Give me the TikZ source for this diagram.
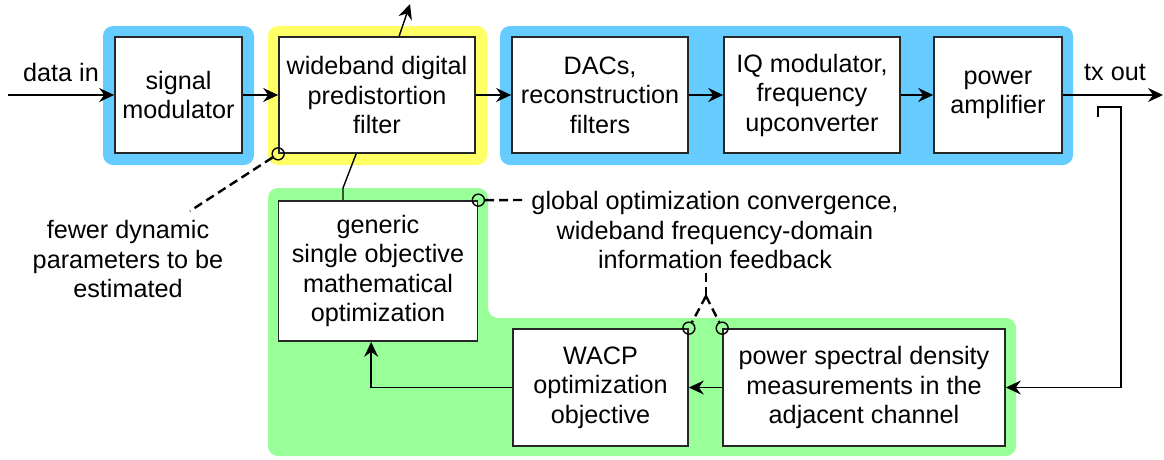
\documentclass[tikz,border=0pt]{standalone}
\usepackage{fontspec}
\setmainfont{Liberation Sans}
\usetikzlibrary{arrows.meta,calc}
\definecolor{panelblue}{HTML}{66CCFF}
\definecolor{panelyellow}{HTML}{FFFF66}
\definecolor{panelgreen}{HTML}{99FF99}
\begin{document}
\begin{tikzpicture}[x=1pt,y=-1pt,
  font=\fontsize{25.2}{29.5}\selectfont,
  blk/.style={draw=black!85,line width=1.7pt,fill=white,align=center,inner sep=0pt},
  panel/.style={rounded corners=10pt},
  wire/.style={line width=1.4pt},
  arrow/.style={wire,-{Stealth[length=15pt,width=14pt,inset=5pt]}},
  dashline/.style={line width=2.4pt,dash pattern=on 9pt off 5pt},
  tap/.style={circle,draw,line width=1.4pt,minimum size=12pt,inner sep=0pt},
  lbl/.style={align=center,inner sep=0pt}]
\useasboundingbox (0,0) rectangle (1164,459);

% coloured group panels
\fill[panelblue,panel] (103,26) rectangle (254,165);
\fill[panelyellow,panel] (268,26) rectangle (487,165);
\fill[panelblue,panel] (500,26) rectangle (1073,165);
\fill[panelgreen,panel] (268,188) -- (488,188) -- (488,318) -- (1016,318)
  -- (1016,456) -- (268,456) -- cycle;

% transmit chain
\node[blk,minimum width=127pt,minimum height=116pt] (sig) at (178.5,95) {signal\\modulator};
\node[blk,minimum width=196pt,minimum height=116pt] (pred) at (377,95) {wideband digital\\predistortion\\filter};
\node[blk,minimum width=176pt,minimum height=116pt] (dacs) at (600,95) {DACs,\\reconstruction\\filters};
\node[blk,minimum width=176pt,minimum height=116pt] (iq) at (812,95) {IQ modulator,\\frequency\\upconverter};
\node[blk,minimum width=128pt,minimum height=116pt] (pa) at (998,95) {power\\amplifier};

% optimisation loop
\node[blk,minimum width=199pt,minimum height=140pt] (gen) at (378,271) {generic\\single objective\\mathematical\\optimization};
\node[blk,minimum width=175pt,minimum height=117pt] (wacp) at (600.5,387.5) {WACP\\optimization\\objective};
\node[blk,minimum width=282pt,minimum height=117pt] (psd) at (864,387.5) {power spectral density\\measurements in the\\adjacent channel};

% free text
\node[lbl] (datain) at (61,72) {data in};
\node[lbl] (txout) at (1115,72) {tx out};
\node[lbl] (fewer) at (128,259) {fewer dynamic\\parameters to be\\estimated};
\node[lbl] (glob) at (715,230) {global optimization convergence,\\wideband frequency-domain\\information feedback};

% connector end points
\coordinate (inpt) at (8,95);
\coordinate (outpt) at (1163,95);
\coordinate (predout) at (410,4);
\coordinate (bend) at (343,188);
\coordinate (fbstart) at (1098,117);
\coordinate (fbcorner) at (1121,107);
\coordinate (fewtip) at (190,211);
\coordinate (globtip) at (527,200);
\coordinate (infotip) at (706,270);
\coordinate (ysplit) at (706,296);

% signal path
\draw[arrow] (inpt) -- (sig.west);
\draw[arrow] (sig) -- (pred);
\draw[arrow] (pred) -- (dacs);
\draw[arrow] (dacs) -- (iq);
\draw[arrow] (iq) -- (pa);
\draw[arrow] (pa.east) -- (outpt);
\draw[arrow] ([xshift=121pt]pred.north west) -- (predout);

% feedback path
\draw[arrow] (fbstart) |- (fbcorner) |- (psd.east);
\draw[arrow] (psd) -- (wacp);
\draw[arrow] (wacp.west) -| ([xshift=93.5pt]gen.south west);
\draw[wire] ([xshift=78pt]pred.south west) -- (bend) -- (bend |- gen.north);

% annotation taps
\node[tap] (c1) at (pred.south west) {};
\node[tap] (c2) at (gen.north east) {};
\node[tap] (c3) at (wacp.north east) {};
\node[tap] (c4) at (psd.north west) {};
\draw[dashline] (c1) -- (fewtip);
\draw[dashline] (c2) -- (globtip);
\draw[dashline] (ysplit) -- (infotip);
\draw[dashline] (ysplit) -- (c3);
\draw[dashline] (ysplit) -- (c4);
\end{tikzpicture}
\end{document}
